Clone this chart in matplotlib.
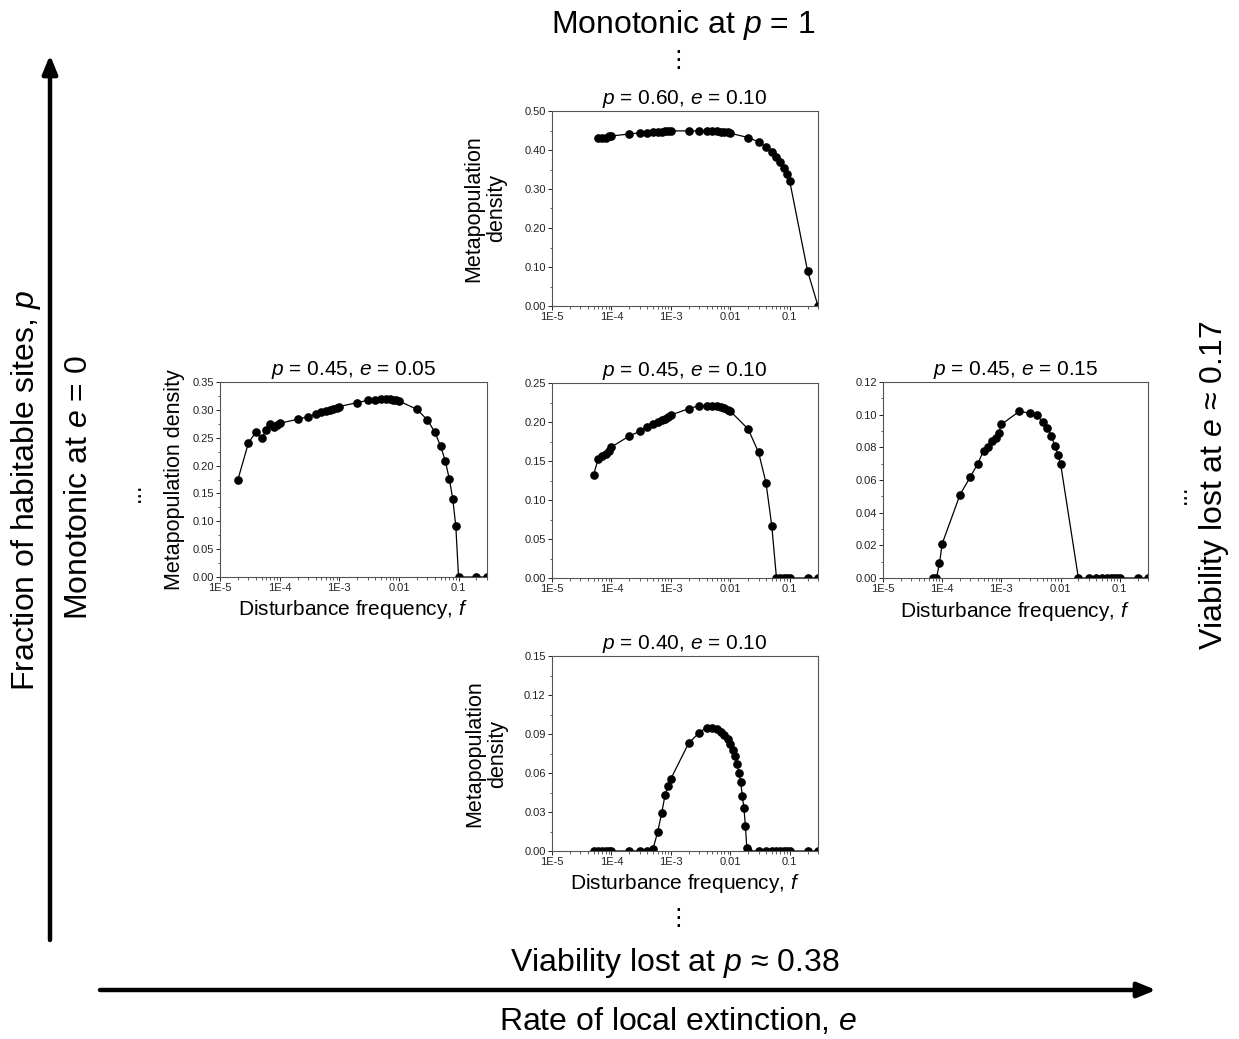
import numpy as np
import matplotlib
matplotlib.use('Agg')
import matplotlib.pyplot as plt
from matplotlib.ticker import FixedLocator, MultipleLocator, LogLocator, NullFormatter

plt.rcParams['font.family'] = ['Liberation Sans', 'DejaVu Sans']
plt.rcParams['mathtext.fontset'] = 'custom'
plt.rcParams['mathtext.rm'] = 'Liberation Sans'
plt.rcParams['mathtext.it'] = 'Liberation Sans:italic'

W, H = 1239, 1039

# disturbance frequency f and metapopulation density
f_top = [6e-5, 7e-5, 8e-5, 9e-5, 1e-4, 2e-4, 3e-4, 4e-4, 5e-4, 6e-4, 7e-4, 8e-4, 9e-4, 1e-3,
         2e-3, 3e-3, 4e-3, 5e-3, 6e-3, 7e-3, 8e-3, 9e-3, 0.01, 0.02, 0.03, 0.04, 0.05, 0.06,
         0.07, 0.08, 0.09, 0.1, 0.2, 0.3]
d_top = [0.432, 0.430, 0.431, 0.435, 0.436, 0.441, 0.444, 0.444, 0.446, 0.447, 0.447, 0.448,
         0.448, 0.449, 0.449, 0.449, 0.449, 0.448, 0.448, 0.447, 0.446, 0.445, 0.443, 0.432,
         0.421, 0.408, 0.396, 0.383, 0.370, 0.355, 0.338, 0.321, 0.090, 0.0]

f_left = [2e-5, 3e-5, 4e-5, 5e-5, 6e-5, 7e-5, 8e-5, 9e-5, 1e-4, 2e-4, 3e-4, 4e-4, 5e-4, 6e-4,
          7e-4, 8e-4, 9e-4, 1e-3, 2e-3, 3e-3, 4e-3, 5e-3, 6e-3, 7e-3, 8e-3, 9e-3, 0.01, 0.02,
          0.03, 0.04, 0.05, 0.06, 0.07, 0.08, 0.09, 0.1, 0.2, 0.3]
d_left = [0.175, 0.241, 0.260, 0.249, 0.264, 0.275, 0.269, 0.272, 0.276, 0.283, 0.288, 0.292,
          0.296, 0.298, 0.300, 0.302, 0.304, 0.306, 0.313, 0.317, 0.318, 0.319, 0.319, 0.319,
          0.318, 0.317, 0.316, 0.301, 0.282, 0.260, 0.235, 0.208, 0.176, 0.140, 0.091, 0.0,
          0.0, 0.0]

f_mid = [5e-5, 6e-5, 7e-5, 8e-5, 9e-5, 1e-4, 2e-4, 3e-4, 4e-4, 5e-4, 6e-4, 7e-4, 8e-4, 9e-4,
         1e-3, 2e-3, 3e-3, 4e-3, 5e-3, 6e-3, 7e-3, 8e-3, 9e-3, 0.01, 0.02, 0.03, 0.04, 0.05,
         0.06, 0.07, 0.08, 0.09, 0.1, 0.2, 0.3]
d_mid = [0.132, 0.153, 0.156, 0.159, 0.163, 0.168, 0.182, 0.188, 0.194, 0.197, 0.200, 0.202,
         0.204, 0.207, 0.209, 0.217, 0.221, 0.221, 0.221, 0.220, 0.219, 0.218, 0.216, 0.214,
         0.191, 0.161, 0.122, 0.067, 0.0, 0.0, 0.0, 0.0, 0.0, 0.0, 0.0]

f_right = [7e-5, 8e-5, 9e-5, 1e-4, 2e-4, 3e-4, 4e-4, 5e-4, 6e-4, 7e-4, 8e-4, 9e-4, 1e-3, 2e-3,
           3e-3, 4e-3, 5e-3, 6e-3, 7e-3, 8e-3, 9e-3, 0.01, 0.02, 0.03, 0.04, 0.05, 0.06, 0.07,
           0.08, 0.09, 0.1, 0.2, 0.3]
d_right = [0.0, 0.0, 0.009, 0.021, 0.051, 0.062, 0.070, 0.078, 0.080, 0.084, 0.086, 0.089,
           0.094, 0.102, 0.101, 0.0995, 0.0955, 0.092, 0.087, 0.081, 0.0755, 0.070, 0.0, 0.0,
           0.0, 0.0, 0.0, 0.0, 0.0, 0.0, 0.0, 0.0, 0.0]

f_bot = [5e-5, 6e-5, 7e-5, 8e-5, 9e-5, 1e-4, 2e-4, 3e-4, 4e-4, 5e-4, 6e-4, 7e-4, 8e-4, 9e-4,
         1e-3, 2e-3, 3e-3, 4e-3, 5e-3, 6e-3, 7e-3, 8e-3, 9e-3, 0.01, 0.011, 0.012, 0.013,
         0.014, 0.015, 0.016, 0.017, 0.018, 0.019, 0.02, 0.03, 0.04, 0.05, 0.06, 0.07, 0.08,
         0.09, 0.1, 0.2, 0.3]
d_bot = [0.0, 0.0, 0.0, 0.0, 0.0, 0.0, 0.0, 0.0, 0.0, 0.0015, 0.0145, 0.029, 0.043, 0.050,
         0.0555, 0.083, 0.091, 0.095, 0.095, 0.0935, 0.0915, 0.089, 0.0865, 0.0825, 0.078,
         0.073, 0.067, 0.060, 0.053, 0.042, 0.033, 0.019, 0.0025, 0.0, 0.0, 0.0, 0.0, 0.0,
         0.0, 0.0, 0.0, 0.0, 0.0, 0.0]

xticks = [1e-5, 1e-4, 1e-3, 0.01, 0.1]
xtick_labels = ['1E-5', '1E-4', '1E-3', '0.01', '0.1']

fig = plt.figure(figsize=(W / 100, H / 100), dpi=100)
fig.patch.set_facecolor('white')


def rect(l, t, r, b):
    return [l / W, 1 - b / H, (r - l) / W, (b - t) / H]


def fx(x):
    return x / W


def fy(y):
    return 1 - y / H


def panel(box, f, d, ymax, ystep, title, ylab=None, ylab_x=None, xlab=False):
    ax = fig.add_axes(rect(*box))
    ax.plot(f, d, color='black', lw=0.9, marker='o', ms=5.2, mfc='black', mec='black')
    ax.set_xscale('log')
    ax.set_xlim(1e-5, 0.3)
    ax.set_ylim(0, ymax)
    ax.xaxis.set_major_locator(FixedLocator(xticks))
    ax.set_xticklabels(xtick_labels)
    ax.xaxis.set_minor_locator(LogLocator(base=10, subs=np.arange(2, 10)))
    ax.xaxis.set_minor_formatter(NullFormatter())
    ax.yaxis.set_major_locator(MultipleLocator(ystep))
    ax.yaxis.set_minor_locator(MultipleLocator(ystep / 2))
    ax.yaxis.set_major_formatter(plt.FormatStrFormatter('%.2f'))
    ax.tick_params(which='major', direction='out', length=3, width=0.7, labelsize=8,
                   colors='#222222', pad=1.5)
    ax.tick_params(which='minor', direction='out', length=1.8, width=0.6, colors='#444444')
    for s in ax.spines.values():
        s.set_linewidth(0.8)
        s.set_color('#555555')
    ax.set_title(title, fontsize=15, pad=5)
    if ylab:
        ax.set_ylabel(ylab, fontsize=15.5, linespacing=1.1)
        ax.yaxis.set_label_coords(ylab_x, 0.5)
    if xlab:
        ax.set_xlabel('Disturbance frequency, $f$', fontsize=15)
        ax.xaxis.set_label_coords(0.5, -0.11)
    return ax


panel((552, 111, 818, 306), f_top, d_top, 0.50, 0.10, '$p$ = 0.60, $e$ = 0.10',
      ylab='Metapopulation\ndensity', ylab_x=-0.17)
panel((220, 382, 487, 577), f_left, d_left, 0.35, 0.05, '$p$ = 0.45, $e$ = 0.05',
      ylab='Metapopulation density', ylab_x=-0.13, xlab=True)
panel((552, 383, 818, 578), f_mid, d_mid, 0.25, 0.05, '$p$ = 0.45, $e$ = 0.10')
panel((883, 382, 1148, 578), f_right, d_right, 0.12, 0.02, '$p$ = 0.45, $e$ = 0.15',
      xlab=True)
panel((552, 656, 818, 851), f_bot, d_bot, 0.15, 0.03, '$p$ = 0.40, $e$ = 0.10',
      ylab='Metapopulation\ndensity', ylab_x=-0.165, xlab=True)

big = 23
fig.text(fx(683), fy(25), 'Monotonic at $p$ = 1', fontsize=big, ha='center', va='center')
fig.text(fx(678), fy(60), '⋮', fontsize=17, ha='center', va='center', family='DejaVu Sans')
fig.text(fx(678), fy(918), '⋮', fontsize=17, ha='center', va='center', family='DejaVu Sans')
fig.text(fx(675), fy(963), 'Viability lost at $p$ ≈ 0.38', fontsize=big, ha='center',
         va='center')
fig.text(fx(678), fy(1021), 'Rate of local extinction, $e$', fontsize=big, ha='center',
         va='center')
fig.text(fx(26), fy(490), 'Fraction of habitable sites, $p$', fontsize=big, ha='center',
         va='center', rotation=90)
fig.text(fx(79), fy(488), 'Monotonic at $e$ = 0', fontsize=big, ha='center', va='center',
         rotation=90)
fig.text(fx(134), fy(492), '...', fontsize=17, ha='center', va='center', rotation=90)
fig.text(fx(1180), fy(494), '...', fontsize=17, ha='center', va='center', rotation=90)
fig.text(fx(1214), fy(485), 'Viability lost at $e$ ≈ 0.17', fontsize=big, ha='center',
         va='center', rotation=90)

arrow = dict(arrowstyle='-|>,head_length=1.1,head_width=0.45', lw=3.2, color='black',
             shrinkA=0, shrinkB=0)
fig.add_artist(plt.Annotation('', xy=(fx(50), fy(55)), xytext=(fx(50), fy(940)),
                              xycoords='figure fraction', textcoords='figure fraction',
                              arrowprops=arrow))
fig.add_artist(plt.Annotation('', xy=(fx(1156), fy(990)), xytext=(fx(100), fy(990)),
                              xycoords='figure fraction', textcoords='figure fraction',
                              arrowprops=arrow))

fig.savefig('out.png', dpi=100, facecolor='white')
